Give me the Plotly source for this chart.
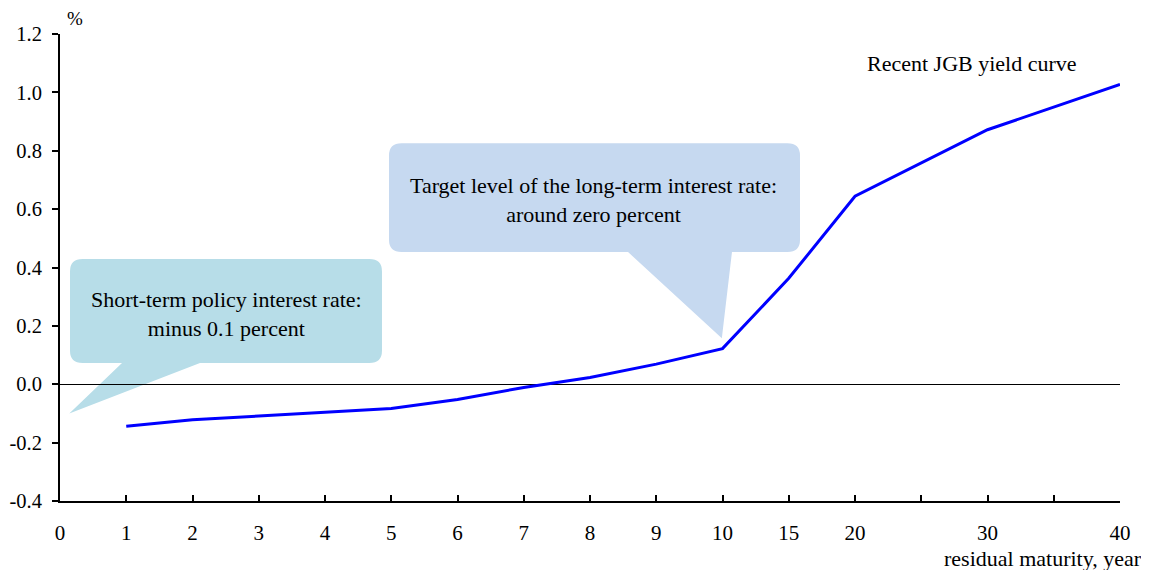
import plotly.graph_objects as go

# ---- data ----
maturities = [1, 2, 3, 4, 5, 6, 7, 8, 9, 10, 15, 20, 30, 40]
yields = [-0.144, -0.122, -0.109, -0.095, -0.083, -0.052, -0.011, 0.023, 0.069, 0.122,
          0.363, 0.644, 0.872, 1.027]
x_tick_labels = ["0", "1", "2", "3", "4", "5", "6", "7", "8", "9", "10", "15", "20", "", "30", "", "40"]
x_tick_years = [0, 1, 2, 3, 4, 5, 6, 7, 8, 9, 10, 15, 20, 25, 30, 35, 40]
y_tick_vals = [-0.4, -0.2, 0.0, 0.2, 0.4, 0.6, 0.8, 1.0, 1.2]
y_tick_labels = ["-0.4", "-0.2", "0.0", "0.2", "0.4", "0.6", "0.8", "1.0", "1.2"]


def pos(m):
    # axis scale: 1 unit per year up to 10 years, then 1 unit per 5 years
    return m if m <= 10 else 10 + (m - 10) / 5.0


FONT = "Liberation Serif, Times New Roman, serif"

fig = go.Figure()
fig.add_trace(go.Scatter(
    x=[pos(m) for m in maturities], y=yields, mode="lines",
    line=dict(color="#0000FF", width=3), hoverinfo="skip", showlegend=False))


def callout(x0, x1, yb, yt, bl, br, tipx, tipy, rx, ry, color):
    p = (f"M {x0+rx},{yt} L {x1-rx},{yt} Q {x1},{yt} {x1},{yt-ry} "
         f"L {x1},{yb+ry} Q {x1},{yb} {x1-rx},{yb} "
         f"L {br},{yb} L {tipx},{tipy} L {bl},{yb} "
         f"L {x0+rx},{yb} Q {x0},{yb} {x0},{yb+ry} "
         f"L {x0},{yt-ry} Q {x0},{yt} {x0+rx},{yt} Z")
    return dict(type="path", path=p, xref="x", yref="y", fillcolor=color,
                line=dict(width=0), layer="below")


fig.add_shape(callout(0.151, 4.86, 0.073, 0.429, 0.936, 2.113, 0.14, -0.10, 0.19, 0.042, "#B7DDE8"))
fig.add_shape(callout(4.966, 11.17, 0.453, 0.826, 8.574, 10.143, 9.99, 0.158, 0.19, 0.042, "#C6D9F0"))

fig.add_annotation(x=2.506, y=0.242, xref="x", yref="y",
                   text="Short-term policy interest rate:<br>minus 0.1 percent",
                   showarrow=False, font=dict(family=FONT, size=22, color="#000"), align="center")
fig.add_annotation(x=8.06, y=0.630, xref="x", yref="y",
                   text="Target level of the long-term interest rate:<br>around zero percent",
                   showarrow=False, font=dict(family=FONT, size=22, color="#000"), align="center")
fig.add_annotation(x=13.77, y=1.100, xref="x", yref="y", text="Recent JGB yield curve",
                   showarrow=False, font=dict(family=FONT, size=22, color="#000"))
fig.add_annotation(x=0, y=1, xref="paper", yref="paper", text="%", xanchor="left", yanchor="bottom",
                   xshift=5, yshift=3, showarrow=False, font=dict(family=FONT, size=19, color="#000"))
fig.add_annotation(x=1, y=0, xref="paper", yref="paper", text="residual maturity, year",
                   xanchor="right", yanchor="top", xshift=24, yshift=-43, showarrow=False,
                   font=dict(family=FONT, size=22, color="#000"))

fig.update_layout(
    width=1141, height=562,
    margin=dict(l=52, r=29, t=26, b=69, autoexpand=False),
    plot_bgcolor="white", paper_bgcolor="white",
    font=dict(family=FONT, size=21, color="#000"),
    xaxis=dict(range=[0, 16], tickvals=[pos(m) for m in x_tick_years], ticktext=x_tick_labels,
               showline=True, linecolor="#000", linewidth=2, ticks="inside", ticklen=6,
               tickcolor="#000", tickwidth=1.5, showgrid=False, zeroline=False,
               ticklabelstandoff=12, fixedrange=True, automargin=False),
    yaxis=dict(range=[-0.4, 1.2], tickvals=y_tick_vals, ticktext=y_tick_labels,
               tickfont=dict(family=FONT, size=20.5, color="#000"),
               showline=True, linecolor="#000", linewidth=2, ticks="outside", ticklen=6,
               tickcolor="#000", tickwidth=1.5, showgrid=False, zeroline=True,
               zerolinecolor="#000", zerolinewidth=1, ticklabelstandoff=6, fixedrange=True,
               automargin=False),
)

fig.write_html("out.html")
